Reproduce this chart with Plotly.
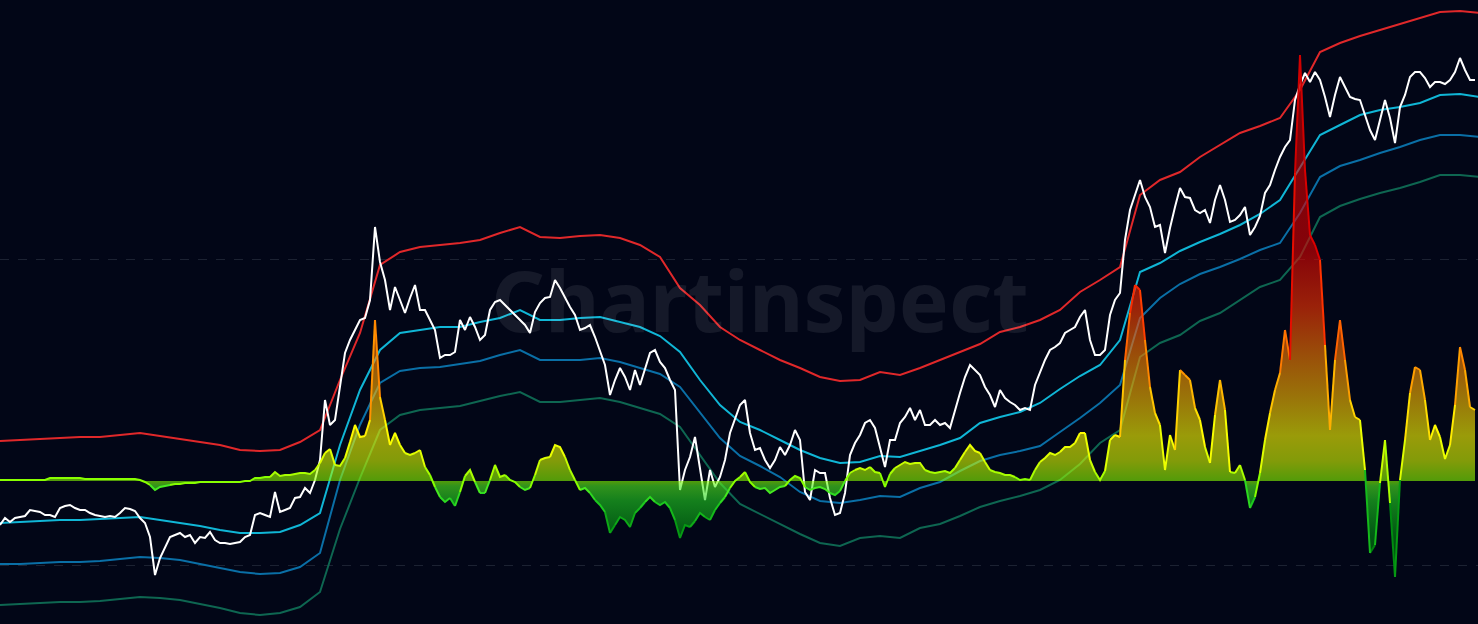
"""
Price bands + oscillator chart (dark theme)
Plotly recreation: price with four envelope bands, oscillator area with value-based colours.
"""

import numpy as np
import pandas as pd
import plotly.graph_objects as go

START = "2019-06-01"
SPAN_DAYS = 2217

# price, one reading every 7.5 days
price = [
    99, 106, 102, 106, 107, 108, 114, 113, 112, 109,
    109, 107, 116, 118, 119, 116, 114, 114, 111, 109,
    108, 107, 108, 107, 111, 116, 115, 113, 106, 101,
    87, 49, 66, 77, 87, 89, 91, 87, 89, 81,
    87, 86, 92, 84, 81, 81, 80, 81, 82, 87,
    89, 109, 111, 109, 107, 132, 112, 114, 116, 126,
    127, 136, 131, 144, 164, 224, 199, 204, 237, 271,
    284, 294, 304, 306, 324, 397, 362, 344, 314, 337,
    324, 311, 326, 339, 314, 314, 304, 294, 266, 269,
    269, 272, 304, 294, 307, 297, 284, 289, 314, 322,
    324, 319, 314, 309, 304, 299, 291, 312, 321, 326,
    327, 344, 336, 326, 317, 309, 294, 296, 299, 287,
    274, 259, 229, 244, 256, 247, 234, 254, 239, 254,
    271, 274, 262, 256, 244, 234, 134, 154, 167, 187,
    154, 124, 154, 137, 147, 164, 191, 206, 219, 224,
    191, 174, 176, 164, 156, 164, 177, 169, 179, 194,
    184, 132, 124, 154, 151, 151, 126, 109, 111, 131,
    169, 181, 189, 201, 204, 196, 177, 157, 184, 184,
    201, 207, 216, 204, 214, 199, 199, 204, 199, 201,
    196, 214, 231, 247, 259, 254, 249, 237, 229, 217,
    234, 226, 222, 219, 214, 216, 214, 239, 251, 264,
    274, 277, 281, 291, 294, 297, 307, 314, 284, 269,
    269, 274, 309, 324, 331, 384, 414, 429, 444, 427,
    417, 397, 399, 371, 396, 417, 436, 427, 426, 414,
    411, 414, 401, 424, 439, 424, 402, 404, 409, 417,
    389, 397, 408, 431, 439, 454, 467, 477, 484, 524,
    539, 551, 542, 552, 544, 527, 507, 529, 547, 537,
    527, 525, 524, 509, 494, 484, 504, 524, 506, 481,
    517, 529, 547, 552, 552, 546, 537, 542, 542, 540,
    544, 552, 566, 554, 544, 544,
]

# oscillator, same dates as price
osc = [
    1, 1, 1, 1, 1, 1, 1, 1, 1, 1,
    3, 3, 3, 3, 3, 3, 3, 2, 2, 2,
    2, 2, 2, 2, 2, 2, 2, 2, 1, -1,
    -4, -9, -6, -5, -4, -3, -3, -2, -2, -2,
    -1, -1, -1, -1, -1, -1, -1, -1, -1, 0,
    0, 3, 3, 4, 4, 9, 5, 6, 6, 7,
    8, 8, 7, 11, 18, 28, 32, 16, 15, 23,
    39, 56, 44, 45, 61, 161, 84, 61, 36, 48,
    36, 28, 26, 28, 31, 14, 6, -6, -16, -21,
    -17, -25, -11, 5, 11, -1, -12, -12, 1, 16,
    4, 6, 1, -1, -6, -9, -7, 6, 21, 23,
    24, 36, 34, 24, 11, 1, -9, -7, -12, -19,
    -24, -31, -52, -44, -36, -39, -46, -32, -27, -21,
    -16, -21, -24, -21, -27, -39, -57, -44, -46, -40,
    -32, -36, -39, -29, -22, -16, -7, 0, 4, 9,
    -1, -6, -8, -7, -12, -9, -6, -5, 1, 5,
    3, -6, -9, -7, -6, -8, -12, -14, -10, 0,
    8, 11, 13, 11, 14, 9, 8, -6, 7, 13,
    16, 19, 17, 18, 18, 11, 9, 8, 9, 10,
    8, 13, 21, 29, 36, 30, 28, 19, 11, 9,
    8, 6, 6, 4, 1, 2, 1, 11, 19, 23,
    28, 26, 29, 34, 34, 38, 48, 48, 21, 9,
    1, 10, 41, 46, 44, 121, 168, 196, 191, 141,
    94, 68, 56, 11, 46, 31, 111, 106, 101, 73,
    61, 34, 18, 66, 101, 71, 9, 8, 16, 1,
    -27, -16, 8, 41, 68, 91, 108, 151, 121, 308,
    426, 311, 246, 236, 221, 136, 51, 121, 161, 121,
    81, 64, 61, 11, -72, -64, -2, 41, -22, -96,
    1, 41, 88, 114, 111, 81, 41, 56, 44, 22,
    36, 76, 134, 111, 74, 71,
]

# bands, one reading every 30 days
band_top = [
    183, 184, 185, 186, 187, 187, 189, 191, 188, 185,
    182, 179, 174, 173, 174, 182, 194, 244, 291, 359,
    372, 377, 379, 381, 384, 391, 397, 387, 386, 388,
    389, 386, 379, 367, 336, 319, 297, 284, 274, 264,
    256, 247, 243, 244, 252, 249, 256, 264, 272, 280,
    292, 297, 304, 314, 332, 344, 357, 429, 444, 452,
    467, 479, 491, 498, 506, 534, 572, 581, 588, 594,
    600, 606, 612, 613, 611,
]
band_mid = [
    101, 102, 103, 104, 104, 105, 106, 107, 104, 101,
    98, 94, 91, 91, 92, 99, 111, 179, 234, 274,
    291, 294, 297, 297, 302, 306, 314, 304, 304, 306,
    307, 302, 297, 288, 272, 244, 219, 202, 194, 184,
    174, 166, 161, 162, 168, 167, 173, 179, 186, 201,
    207, 212, 221, 235, 248, 259, 284, 352, 361, 373,
    382, 390, 399, 410, 424, 457, 489, 499, 509, 514,
    517, 521, 529, 530, 527,
]
band_low = [
    60, 60, 61, 62, 62, 63, 65, 67, 66, 64,
    60, 56, 52, 50, 51, 57, 71, 144, 199, 241,
    253, 256, 257, 260, 263, 269, 274, 264, 264, 264,
    266, 262, 256, 250, 237, 211, 186, 168, 158, 147,
    132, 123, 121, 124, 128, 127, 136, 142, 153, 163,
    169, 173, 178, 192, 206, 221, 239, 306, 326, 340,
    350, 357, 365, 374, 381, 411, 447, 458, 464, 471,
    477, 484, 489, 489, 487,
]
band_floor = [
    19, 20, 21, 22, 22, 23, 25, 27, 26, 24,
    20, 16, 11, 9, 11, 17, 32, 95, 146, 194,
    209, 214, 216, 218, 223, 228, 232, 222, 222, 224,
    226, 222, 216, 210, 197, 169, 141, 120, 110, 100,
    90, 81, 78, 86, 88, 86, 96, 100, 108, 117,
    123, 128, 134, 144, 160, 181, 194, 267, 281, 289,
    303, 311, 324, 337, 344, 367, 407, 418, 425, 431,
    436, 442, 449, 449, 447,
]

grid_levels = [59, 365]

BG = "#020617"

# oscillator colour stops (value, rgb)
OSC_LOW, OSC_HIGH = -100, 430
osc_stops = [
    (-100, (0, 84, 0)),
    (-55, (0, 140, 16)),
    (-20, (32, 208, 32)),
    (-5, (80, 240, 32)),
    (0, (136, 255, 0)),
    (20, (216, 255, 0)),
    (45, (255, 255, 0)),
    (85, (255, 187, 0)),
    (125, (255, 128, 0)),
    (175, (255, 51, 0)),
    (230, (221, 0, 0)),
    (430, (200, 0, 0)),
]


def osc_colorscale(alpha):
    span = OSC_HIGH - OSC_LOW
    return [[(v - OSC_LOW) / span, f"rgba({r},{g},{b},{alpha})"] for v, (r, g, b) in osc_stops]


def osc_color(v):
    xs = [s[0] for s in osc_stops]
    rgb = [int(round(np.interp(v, xs, [s[1][k] for s in osc_stops]))) for k in range(3)]
    return f"rgb({rgb[0]},{rgb[1]},{rgb[2]})"


price_dates = pd.date_range(START, periods=len(price), freq="180h")
band_dates = pd.date_range(START, periods=len(band_top), freq="720h")
x_end = pd.Timestamp(START) + pd.Timedelta(days=SPAN_DAYS)

fig = go.Figure()

# bands
bands = [
    (band_floor, "#0e6651"),
    (band_low, "#0a6fa6"),
    (band_mid, "#10b6d6"),
    (band_top, "#e0282a"),
]
for vals, color in bands:
    fig.add_trace(go.Scatter(
        x=band_dates, y=vals, mode="lines",
        line=dict(color=color, width=2), hoverinfo="skip",
    ))

# price
fig.add_trace(go.Scatter(
    x=price_dates, y=price, mode="lines",
    line=dict(color="#ffffff", width=2), hoverinfo="skip",
))

# oscillator fill
fig.add_trace(go.Scatter(
    x=price_dates, y=osc, yaxis="y2", mode="lines",
    line=dict(width=0, color="rgba(0,0,0,0)"),
    fill="tozeroy",
    fillgradient=dict(type="vertical", colorscale=osc_colorscale(0.6),
                      start=OSC_LOW, stop=OSC_HIGH),
    hoverinfo="skip",
))

# oscillator line, coloured by value (segments grouped into colour bins)
vals = np.array(osc, dtype=float)
mids = (vals[:-1] + vals[1:]) / 2
bins = np.round(mids / 8).astype(int)
groups = {}
for i, b in enumerate(bins):
    xs, ys = groups.setdefault(b, ([], []))
    if xs and xs[-1] == price_dates[i]:
        xs.append(price_dates[i + 1])
        ys.append(osc[i + 1])
    else:
        if xs:
            xs.append(None)
            ys.append(None)
        xs.extend([price_dates[i], price_dates[i + 1]])
        ys.extend([osc[i], osc[i + 1]])
for b, (xs, ys) in sorted(groups.items()):
    fig.add_trace(go.Scatter(
        x=xs, y=ys, yaxis="y2", mode="lines",
        line=dict(color=osc_color(b * 8), width=2),
        connectgaps=False, hoverinfo="skip",
    ))

# watermark
fig.add_annotation(
    text="<b>Chartinspect</b>", xref="paper", yref="paper",
    x=0.514, y=0.52, xanchor="center", yanchor="middle", showarrow=False,
    font=dict(family="Noto Sans", size=84, color="rgba(255,255,255,0.08)"),
)

fig.update_layout(
    width=1478, height=624,
    margin=dict(l=0, r=0, t=0, b=0),
    paper_bgcolor=BG, plot_bgcolor=BG,
    showlegend=False,
    xaxis=dict(range=[pd.Timestamp(START), x_end], visible=False),
    yaxis=dict(range=[0, 624], tickvals=grid_levels, showticklabels=False,
               showgrid=True, gridcolor="#1c2232", griddash="dash", gridwidth=1,
               zeroline=False, showline=False),
    yaxis2=dict(range=[-143, 481], overlaying="y", visible=False,
                showgrid=False, zeroline=False),
)

fig.write_html(
    "out.html",
    config={"displayModeBar": False},
    post_script="document.body.style.margin='0';document.body.style.overflow='hidden';",
)
